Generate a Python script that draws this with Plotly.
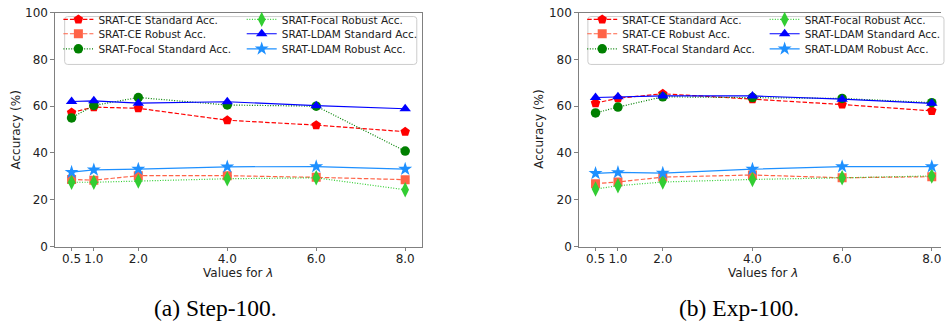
import plotly.graph_objects as go

# ---------------- data ----------------
lam = [0.5, 1.0, 2.0, 4.0, 6.0, 8.0]
lam_labels = ["0.5", "1.0", "2.0", "4.0", "6.0", "8.0"]
y_ticks = [0, 20, 40, 60, 80, 100]

series_names = [
    "SRAT-CE Standard Acc.",
    "SRAT-CE Robust Acc.",
    "SRAT-Focal Standard Acc.",
    "SRAT-Focal Robust Acc.",
    "SRAT-LDAM Standard Acc.",
    "SRAT-LDAM Robust Acc.",
]

# (a) Step-100
ce_std_a = [57.3, 59.6, 59.1, 54.0, 51.9, 49.1]
ce_rob_a = [28.7, 28.4, 30.3, 30.3, 29.6, 28.6]
focal_std_a = [55.0, 60.3, 63.7, 60.5, 60.0, 40.8]
focal_rob_a = [27.5, 27.5, 28.0, 29.0, 29.4, 24.3]
ldam_std_a = [62.0, 62.3, 61.3, 61.9, 60.2, 58.9]
ldam_rob_a = [31.8, 32.8, 33.1, 34.1, 34.2, 33.1]

# (b) Exp-100
ce_std_b = [61.3, 63.4, 65.3, 63.0, 60.7, 58.0]
ce_rob_b = [26.9, 27.6, 29.7, 30.6, 29.4, 29.9]
focal_std_b = [57.1, 59.6, 64.0, 63.7, 63.3, 61.5]
focal_rob_b = [24.6, 26.0, 27.6, 28.7, 29.4, 30.2]
ldam_std_b = [63.7, 64.0, 64.4, 64.4, 63.0, 61.2]
ldam_rob_b = [31.3, 31.7, 31.4, 33.1, 34.2, 34.2]

captions = ["(a) Step-100.", "(b) Exp-100."]

# ---------------- styles ----------------
W, H = 946, 328
styles = [
    dict(color="#ff0000", symbol="pentagon", size=10, dash="4.5px,2px"),
    dict(color="#ff6347", symbol="square", size=9, dash="4.5px,2px"),
    dict(color="#008000", symbol="circle", size=9.5, dash="1px,1.6px"),
    dict(color="#32cd32", symbol="diamond-tall", size=11, dash="1px,1.6px"),
    dict(color="#0000ff", symbol="triangle-up", size=10, dash="solid"),
    dict(color="#1e90ff", symbol="star", size=10.5, dash="solid"),
]

def px_x(p):
    return p / W

def px_y(p):
    return 1 - p / H

# legend slot layout (pixel positions of each entry's marker centre)
legend_cols = {0: (58.7, 243.0), 1: (585.3, 768.7)}
legend_rows = [19.3, 34.3, 50.0]
ROW_OFFSET = 21.5  # distance from legend top to its item centre

fig = go.Figure()

panels = [
    [ce_std_a, ce_rob_a, focal_std_a, focal_rob_a, ldam_std_a, ldam_rob_a],
    [ce_std_b, ce_rob_b, focal_std_b, focal_rob_b, ldam_std_b, ldam_rob_b],
]

legend_font = dict(family="DejaVu Sans", size=10.5, color="#222222")
legend_layouts = {}

for pi, pdata in enumerate(panels):
    xa = "x" if pi == 0 else "x2"
    ya = "y" if pi == 0 else "y2"
    for i, (name, vals, st) in enumerate(zip(series_names, pdata, styles)):
        k = pi * 6 + i + 1
        lname = "legend" if k == 1 else f"legend{k}"
        col, row = divmod(i, 3)
        legend_layouts[lname] = dict(
            x=px_x(legend_cols[pi][col]), y=px_y(legend_rows[row] - ROW_OFFSET),
            xanchor="left", yanchor="top", bgcolor="rgba(0,0,0,0)", borderwidth=0,
            font=legend_font, itemwidth=30, tracegroupgap=0, orientation="v",
        )
        fig.add_trace(go.Scatter(
            x=lam, y=vals, name=name, mode="lines+markers",
            xaxis=xa, yaxis=ya, legend=lname,
            line=dict(color=st["color"], width=1.2, dash=st["dash"]),
            marker=dict(color=st["color"], symbol=st["symbol"], size=st["size"], line=dict(width=0)),
            showlegend=True,
        ))

axis_color = "#808080"
tick_font = dict(family="DejaVu Sans", size=12, color="#222222")

# axis pixel geometry
left_x0, left_x1 = 55.2, 424.1
right_x0 = 581.8
right_scale = 45.07
y_top, y_bot = 5.8, 250.3

common_x = dict(
    tickmode="array", tickvals=lam, ticktext=lam_labels,
    showgrid=False, zeroline=False, showline=True, linecolor=axis_color, linewidth=1,
    ticks="outside", ticklen=3.5, tickwidth=1, tickcolor=axis_color, tickfont=tick_font,
    ticklabeloverflow="allow", ticklabelstandoff=-3,
)
common_y = dict(
    tickmode="array", tickvals=y_ticks, range=[0, 100],
    showgrid=False, zeroline=False, showline=True, linecolor=axis_color, linewidth=1,
    ticks="outside", ticklen=3.5, tickwidth=1, tickcolor=axis_color, tickfont=tick_font,
    ticklabeloverflow="allow",
)

fig.update_layout(
    xaxis=dict(common_x, domain=[px_x(left_x0), px_x(left_x1)], range=[0.125, 8.375],
               mirror=True, anchor="y"),
    yaxis=dict(common_y, domain=[px_y(y_bot), px_y(y_top)], mirror=True, anchor="x"),
    xaxis2=dict(common_x, domain=[px_x(right_x0), 1.0],
                range=[0.125, 0.125 + (W - right_x0) / right_scale],
                mirror=True, anchor="y2"),
    yaxis2=dict(common_y, domain=[px_y(y_bot), px_y(y_top)], mirror=False, anchor="x2"),
)
fig.update_layout(**legend_layouts)

# rounded legend frames
def rounded_rect(x0, y0, x1, y1, r=3):
    rx, ry = r / W, r / H
    X0, X1 = px_x(x0), px_x(x1)
    Y0, Y1 = px_y(y0), px_y(y1)
    return (f"M{X0+rx},{Y0} L{X1-rx},{Y0} Q{X1},{Y0} {X1},{Y0-ry} "
            f"L{X1},{Y1+ry} Q{X1},{Y1} {X1-rx},{Y1} "
            f"L{X0+rx},{Y1} Q{X0},{Y1} {X0},{Y1+ry} "
            f"L{X0},{Y0-ry} Q{X0},{Y0} {X0+rx},{Y0} Z")

shapes = [
    dict(type="path", xref="paper", yref="paper", path=rounded_rect(65, 10, 419, 60),
         line=dict(color="#cccccc", width=1), fillcolor="rgba(255,255,255,0)", layer="above"),
    dict(type="path", xref="paper", yref="paper", path=rounded_rect(591, 10, 949, 60),
         line=dict(color="#cccccc", width=1), fillcolor="rgba(255,255,255,0)", layer="above"),
]

annotations = []
for xc in (16, 541):
    annotations.append(dict(text="Accuracy (%)", x=px_x(xc), y=px_y((y_top + y_bot) / 2),
                            xref="paper", yref="paper", showarrow=False, textangle=-90,
                            xanchor="center", yanchor="middle",
                            font=dict(family="DejaVu Sans", size=12, color="#222222")))
for xc in ((left_x0 + left_x1) / 2, 766.7):
    annotations.append(dict(text="Values for <i>λ</i>", x=px_x(xc), y=px_y(277.5),
                            xref="paper", yref="paper", showarrow=False,
                            xanchor="center", yanchor="middle",
                            font=dict(family="DejaVu Sans", size=12, color="#222222")))
for xc, cap in zip((216.7, 743.3), captions):
    annotations.append(dict(text=cap, x=px_x(xc), y=px_y(314),
                            xref="paper", yref="paper", showarrow=False,
                            xanchor="center", yanchor="middle",
                            font=dict(family="Liberation Serif", size=23.5, color="#000000")))

fig.update_layout(
    width=W, height=H,
    margin=dict(l=0, r=0, t=0, b=0),
    paper_bgcolor="white", plot_bgcolor="white",
    shapes=shapes, annotations=annotations,
    hovermode=False,
)

fig.write_html(
    "out.html",
    config={"displayModeBar": False},
    post_script="document.body.style.margin='0';document.body.style.overflow='hidden';",
)
